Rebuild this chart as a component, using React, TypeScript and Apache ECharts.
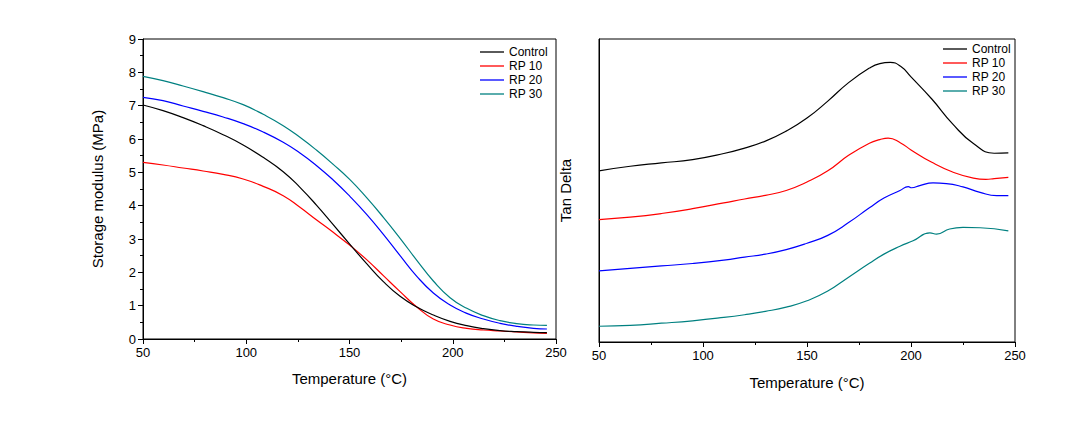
import React, { useEffect, useRef } from "react";
import * as echarts from "echarts";

// ---- Storage modulus (left) ----
const smTemps = [50, 59.7, 69.4, 79.1, 88.8, 98.5, 108.2, 117.9, 126, 134.1, 142.1, 150.2, 158.3, 166.4, 174.5, 182.6, 190.6, 198.7, 206.8, 214.8, 222.9, 231, 239.1, 245.6];
const smControl = [7.02, 6.85, 6.64, 6.4, 6.13, 5.82, 5.45, 5.02, 4.55, 4.01, 3.43, 2.84, 2.26, 1.72, 1.28, 0.96, 0.72, 0.53, 0.4, 0.31, 0.25, 0.22, 0.2, 0.19];
const smRP10 = [5.3, 5.22, 5.13, 5.04, 4.94, 4.8, 4.58, 4.3, 3.95, 3.57, 3.2, 2.81, 2.38, 1.9, 1.42, 0.96, 0.6, 0.42, 0.32, 0.27, 0.24, 0.21, 0.18, 0.17];
const smRP20 = [7.25, 7.15, 6.99, 6.83, 6.66, 6.46, 6.21, 5.9, 5.58, 5.2, 4.77, 4.28, 3.74, 3.14, 2.5, 1.88, 1.38, 1.02, 0.77, 0.6, 0.47, 0.38, 0.32, 0.3];
const smRP30 = [7.88, 7.75, 7.59, 7.42, 7.24, 7.03, 6.74, 6.4, 6.05, 5.66, 5.24, 4.78, 4.24, 3.65, 3.02, 2.36, 1.74, 1.24, 0.92, 0.7, 0.55, 0.46, 0.42, 0.41];

// ---- Tan delta (right, arbitrary offset units) ----
const tdControlT = [50, 65, 80, 95, 110, 120, 130, 140, 150, 160, 170, 180, 185, 190, 195, 200, 210, 220, 230, 240, 246.8];
const tdControlV = [56.5, 58.0, 59.1, 60.2, 62.2, 64.0, 66.3, 69.6, 73.9, 79.5, 85.6, 90.4, 91.9, 92.3, 91.0, 87.5, 80.2, 72.0, 65.5, 62.3, 62.4];
const tdRP10T = [50, 65, 80, 95, 110, 120, 130, 140, 150, 160, 170, 180, 185, 189, 195, 200, 210, 220, 230, 236, 240, 246.8];
const tdRP10V = [40.4, 41.2, 42.4, 44.0, 45.9, 47.2, 48.4, 50.0, 52.8, 56.5, 61.6, 65.6, 66.8, 67.3, 65.7, 63.4, 59.3, 56.1, 54.1, 53.7, 53.9, 54.3];
const tdRP20T = [50, 65, 80, 95, 110, 120, 130, 140, 150, 160, 170, 180, 187, 194.7, 198.7, 200.3, 204.2, 210.6, 217, 225, 233.2, 241.2, 246.8];
const tdRP20V = [23.5, 24.3, 25.1, 25.9, 27.0, 28.0, 29.0, 30.5, 32.6, 35.2, 39.4, 44.3, 47.5, 50.0, 51.3, 50.9, 51.6, 52.5, 52.3, 51.2, 49.4, 48.3, 48.3];
const tdRP30T = [50, 65, 80, 95, 110, 120, 130, 140, 150, 160, 170, 180, 187, 194.7, 201, 209.1, 212.3, 218.6, 225, 233.2, 246.8];
const tdRP30V = [5.2, 5.5, 6.2, 7.0, 8.1, 9.0, 10.1, 11.5, 13.6, 16.8, 21.4, 26.0, 29.0, 31.6, 33.4, 36.0, 35.6, 37.3, 37.8, 37.7, 36.7];

const seriesNames = ["Control", "RP 10", "RP 20", "RP 30"];
const seriesColors = ["#000000", "#ff0000", "#0000ff", "#008080"];
const xTicks = { min: 50, max: 250, interval: 50 };
const yTicksLeft = { min: 0, max: 9, interval: 1 };

const FONT = "'Liberation Sans', Arial, sans-serif";

const zip = (xs: number[], ys: number[]) => xs.map((x, i) => [x, ys[i]]);

export default function App() {
  const ref = useRef<HTMLDivElement>(null);
  useEffect(() => {
    if (!ref.current) return;
    const chart = echarts.init(ref.current, undefined, { renderer: "svg" });

    const xAxisCommon = (gridIndex: number, nameGap: number) => ({
      type: "value",
      gridIndex,
      min: xTicks.min,
      max: xTicks.max,
      interval: xTicks.interval,
      name: "Temperature (°C)",
      nameLocation: "middle",
      nameGap,
      nameTextStyle: { fontSize: 15, color: "#000", fontFamily: FONT },
      axisLine: { show: true, lineStyle: { color: "#000", width: 1 } },
      axisTick: { show: true, inside: false, length: 5, lineStyle: { color: "#000" } },
      minorTick: { show: true, splitNumber: 2, length: 3, lineStyle: { color: "#000" } },
      axisLabel: { fontSize: 13, color: "#000", fontFamily: FONT, margin: 7 },
      splitLine: { show: false },
    });

    const smData = [smControl, smRP10, smRP20, smRP30];
    const tdData = [
      zip(tdControlT, tdControlV),
      zip(tdRP10T, tdRP10V),
      zip(tdRP20T, tdRP20V),
      zip(tdRP30T, tdRP30V),
    ];

    const legendCommon = {
      orient: "vertical",
      icon: "rect",
      itemWidth: 24,
      itemHeight: 1.3,
      itemGap: 2,
      padding: 0,
      data: seriesNames,
      selectedMode: false,
      textStyle: { fontSize: 12, color: "#000", fontFamily: FONT, lineHeight: 12 },
    };

    chart.setOption({
      animation: false,
      textStyle: { fontFamily: FONT },
      grid: [
        { left: 143, top: 39, width: 413, height: 300, show: true, borderColor: "#000", borderWidth: 1, backgroundColor: "transparent" },
        { left: 599, top: 39, width: 416, height: 303, show: true, borderColor: "#000", borderWidth: 1, backgroundColor: "transparent" },
      ],
      legend: [
        { ...legendCommon, left: 480, top: 46 },
        { ...legendCommon, left: 943, top: 43 },
      ],
      xAxis: [xAxisCommon(0, 32), xAxisCommon(1, 33)],
      yAxis: [
        {
          type: "value",
          gridIndex: 0,
          min: yTicksLeft.min,
          max: yTicksLeft.max,
          interval: yTicksLeft.interval,
          name: "Storage modulus (MPa)",
          nameLocation: "middle",
          nameGap: 38,
          nameTextStyle: { fontSize: 15, color: "#000", fontFamily: FONT },
          axisLine: { show: true, lineStyle: { color: "#000", width: 1 } },
          axisTick: { show: true, inside: false, length: 5, lineStyle: { color: "#000" } },
          minorTick: { show: true, splitNumber: 2, length: 3, lineStyle: { color: "#000" } },
          axisLabel: { fontSize: 13, color: "#000", fontFamily: FONT, margin: 7 },
          splitLine: { show: false },
        },
        {
          type: "value",
          gridIndex: 1,
          min: 0,
          max: 100,
          name: "Tan Delta",
          nameLocation: "middle",
          nameGap: 26,
          nameTextStyle: { fontSize: 15, color: "#000", fontFamily: FONT },
          axisLine: { show: true, lineStyle: { color: "#000", width: 1 } },
          axisTick: { show: false },
          axisLabel: { show: false },
          splitLine: { show: false },
        },
      ],
      series: [
        ...seriesNames.map((name, i) => ({
          name,
          type: "line",
          xAxisIndex: 0,
          yAxisIndex: 0,
          data: zip(smTemps, smData[i]),
          smooth: 0.5,
          showSymbol: false,
          symbol: "none",
          lineStyle: { color: seriesColors[i], width: 1.2 },
          itemStyle: { color: seriesColors[i] },
          z: 10 - i,
        })),
        ...seriesNames.map((name, i) => ({
          name,
          type: "line",
          xAxisIndex: 1,
          yAxisIndex: 1,
          data: tdData[i],
          smooth: 0.5,
          showSymbol: false,
          symbol: "none",
          lineStyle: { color: seriesColors[i], width: 1.2 },
          itemStyle: { color: seriesColors[i] },
        })),
      ],
    });
    return () => chart.dispose();
  }, []);

  return (
    <div
      ref={ref}
      style={{ position: "fixed", left: 0, top: 0, width: 1088, height: 435, background: "#fff" }}
    />
  );
}
